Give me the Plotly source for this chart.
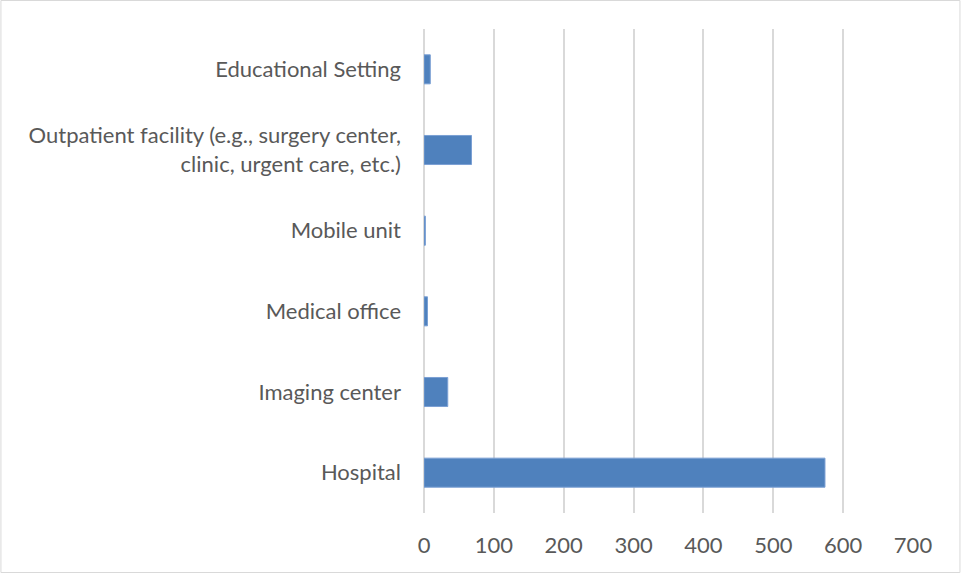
import plotly.graph_objects as go

categories = [
    "Hospital",
    "Imaging center",
    "Medical office",
    "Mobile unit",
    "Outpatient facility (e.g., surgery center,<br>clinic, urgent care, etc.)",
    "Educational Setting",
]
values = [574, 34, 5, 2, 68, 9]
x_ticks = [0, 100, 200, 300, 400, 500, 600, 700]

W, H = 961, 573
L, R, T, B = 424, 913.5, 29, 513
pw, ph = R - L, B - T

fig = go.Figure(go.Bar(
    y=categories, x=values, orientation="h",
    marker=dict(color="#4f81bd", line=dict(color="#7ba0d4", width=1)),
    width=0.36,
))

fig.update_layout(
    width=W, height=H,
    margin=dict(l=L, r=W - R, t=T, b=H - B, autoexpand=False),
    paper_bgcolor="white", plot_bgcolor="white",
    showlegend=False,
    font=dict(family="Lato, Carlito, sans-serif", size=22, color="#595959"),
    xaxis=dict(
        range=[0, 700], tickvals=x_ticks, ticktext=[str(v) for v in x_ticks],
        showgrid=True, gridcolor="#d9d9d9", gridwidth=2,
        zeroline=True, zerolinecolor="#d9d9d9", zerolinewidth=2,
        showline=False, ticks="",
        ticklabelstandoff=17,
    ),
    yaxis=dict(
        categoryorder="array", categoryarray=categories,
        range=[-0.5, 5.5],
        showgrid=False, zeroline=False, showline=False, ticks="",
        ticklabelstandoff=22,
    ),
    shapes=[dict(
        type="rect", xref="paper", yref="paper",
        x0=(0.5 - L) / pw, x1=(W - 0.5 - L) / pw,
        y0=(B - (H - 0.5)) / ph, y1=(B - 0.5) / ph,
        line=dict(color="#d9d9d9", width=1), fillcolor="rgba(0,0,0,0)",
        layer="below",
    )],
)

fig.write_html("out.html", config={"displayModeBar": False},
               post_script="document.body.style.margin='0';")
